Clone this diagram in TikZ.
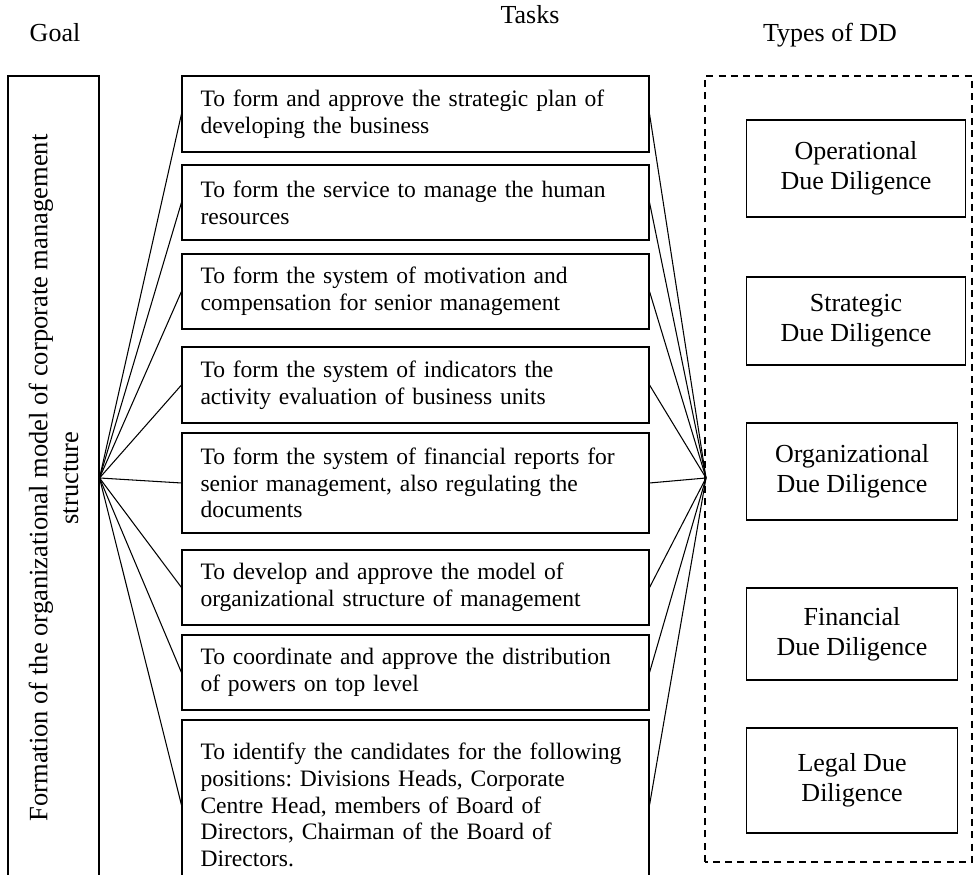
\documentclass[tikz,border=0pt]{standalone}
\usepackage{fontspec}
\setmainfont{Liberation Serif}
\usetikzlibrary{positioning, calc}
\hyphenpenalty=10000
\exhyphenpenalty=10000
\frenchspacing

\begin{document}
\begin{tikzpicture}[
  line width=0.6pt,
  goalbox/.style={draw, rectangle, rotate=90, align=center, font=\fontsize{15.1}{17.4}\selectfont},
  task/.style={draw, rectangle, fill=white, align=left, text width=8.6cm, inner xsep=0.37cm, minimum width=9.34cm, font=\fontsize{13.4}{15.2}\selectfont},
  ddtype/.style={draw, rectangle, fill=white, align=center, anchor=west, font=\fontsize{14.8}{17}\selectfont},
  hdr/.style={font=\fontsize{14.8}{17}\selectfont}
]
\useasboundingbox (0,0) rectangle (19.54,17.5);
\clip (0,0) rectangle (19.54,17.5);

% ---- Headings ----
\node[hdr] (hgoal) at (1.10,16.84) {Goal};
\node[hdr] (htasks) at (10.60,17.20) {Tasks};
\node[hdr] (htypes) at (16.60,16.80) {Types of DD};

% ---- Goal ----
\node[goalbox, minimum width=16.08cm, minimum height=1.82cm] (goal) at (1.07,7.94) {Formation of the organizational model of corporate management\\ structure};

% ---- Tasks ----
\node[task, minimum height=1.52cm] (t1) at (8.31,15.22) {To form and approve the strategic plan of\\ developing the business};
\node[task, minimum height=1.50cm] (t2) at (8.31,13.45) {To form the service to manage the human\\ resources};
\node[task, minimum height=1.50cm] (t3) at (8.31,11.67) {To form the system of motivation and\\ compensation for senior management};
\node[task, minimum height=1.52cm] (t4) at (8.31,9.80) {To form the system of indicators the\\ activity evaluation of business units};
\node[task, minimum height=2.00cm] (t5) at (8.31,7.84) {To form the system of financial reports for\\ senior management, also regulating the\\ documents};
\node[task, minimum height=1.50cm] (t6) at (8.31,5.75) {To develop and approve the model of\\ organizational structure of management};
\node[task, minimum height=1.50cm] (t7) at (8.31,4.05) {To coordinate and approve the distribution\\ of powers on top level};
\node[task, minimum height=3.40cm] (t8) at (8.31,1.40) {To identify the candidates for the following\\ positions: Divisions Heads, Corporate\\ Centre Head, members of Board of\\ Directors, Chairman of the Board of\\ Directors.};

% ---- Types of DD ----
\draw[dash pattern=on 4pt off 3pt] (14.10,0.26) rectangle (19.44,15.98);
\coordinate (hub) at (14.12,7.94);
\node[ddtype, minimum width=4.38cm, minimum height=1.94cm] (dop) at (14.92,14.13) {Operational\\ Due Diligence};
\node[ddtype, minimum width=4.38cm, minimum height=1.76cm] (dstr) at (14.92,11.08) {Strategic\\ Due Diligence};
\node[ddtype, minimum width=4.22cm, minimum height=1.94cm] (dorg) at (14.92,8.07) {Organizational\\ Due Diligence};
\node[ddtype, minimum width=4.22cm, minimum height=1.84cm] (dfin) at (14.92,4.82) {Financial\\ Due Diligence};
\node[ddtype, minimum width=4.22cm, minimum height=2.10cm] (dleg) at (14.92,1.89) {Legal Due\\ Diligence};

% ---- Links ----
\foreach \t in {t1,t2,t3,t4,t5,t6,t7,t8} {
  \draw (goal.south) -- (\t.west);
  \draw (\t.east) -- (hub);
}

\end{tikzpicture}
\end{document}
